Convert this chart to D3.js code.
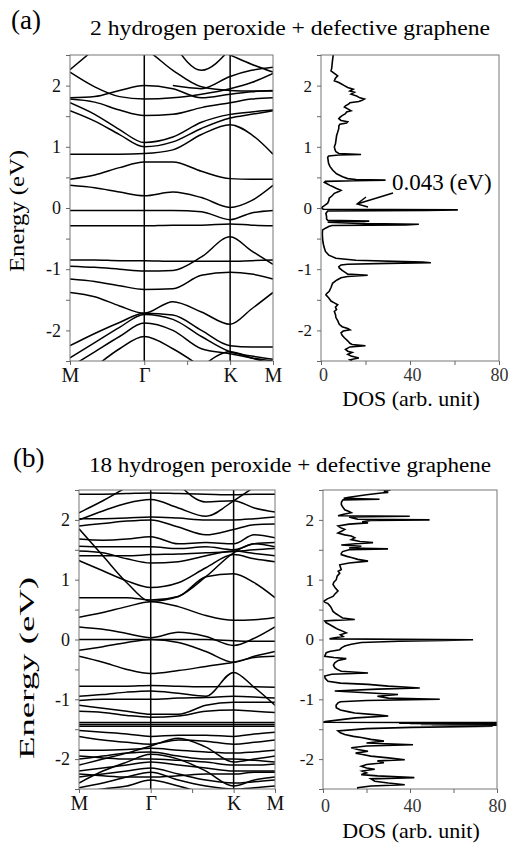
<!DOCTYPE html>
<html>
<head>
<meta charset="utf-8">
<script src="https://cdn.jsdelivr.net/npm/d3@7"></script>
<style>
  body { margin: 0; background: #fff; }
</style>
</head>
<body>
<div id="chart"></div>
<script>
// k-path sample points along M - Γ - K - M (hexagonal BZ lengths)
var kPts = [0, 0.192, 0.385, 0.577, 0.799, 1.021, 1.244, 1.41, 1.577];
var kTicks = [0, 0.577, 0.91, 1.244, 1.577];
var kNames = ["M", "Γ", "", "K", "M"];
var eTicks = [-2, -1, 0, 1, 2];
var dosTickLabels = [0, 40, 80];

// (a) 2 H2O2 bands, energies (eV) at kPts; null = outside window
var bandsA = [
  [0.88,0.88,0.88,0.89,0.95,1.2,1.36,1.2,0.88],
  [1.59,1.42,1.2,1.0,1.08,1.3,1.47,1.53,1.59],
  [1.72,1.53,1.28,1.07,1.16,1.4,1.53,1.57,1.6],
  [1.78,1.73,1.6,1.51,1.53,1.64,1.72,1.78,1.8],
  [1.8,1.82,1.92,2.0,1.95,1.8,1.86,1.9,1.92],
  [2.22,1.98,1.82,1.78,1.8,1.86,1.95,2.05,2.2],
  [2.26,2.6,null,null,null,null,null,null,null],
  [null,null,2.7,2.6,2.25,1.98,1.92,1.91,1.91],
  [null,null,null,null,2.7,2.25,2.6,null,null],
  [null,null,null,null,2.0,1.95,2.15,2.25,2.3],
  [null,null,null,null,null,2.7,2.5,2.35,2.22],
  [0.47,0.54,0.66,0.75,0.75,0.6,0.48,0.47,0.47],
  [0.37,0.33,0.26,0.2,0.26,0.17,0.01,0.12,0.37],
  [-0.04,-0.04,-0.04,-0.04,-0.04,-0.06,-0.19,-0.08,-0.04],
  [-0.29,-0.29,-0.29,-0.29,-0.28,-0.28,-0.26,-0.28,-0.29],
  [-0.85,-0.85,-0.86,-0.86,-0.87,-0.87,-0.87,-0.86,-0.85],
  [-0.95,-0.97,-1.0,-1.03,-1.02,-0.8,-0.47,-0.7,-0.92],
  [-1.16,-1.2,-1.27,-1.33,-1.32,-1.1,-1.05,-1.08,-1.16],
  [-1.38,-1.45,-1.6,-1.72,-1.53,-1.7,-1.9,-1.65,-1.38],
  [-2.25,-2.05,-1.87,-1.72,-1.75,-2.0,-2.25,-2.27,-2.27],
  [-2.45,-2.2,-1.95,-1.74,-1.82,-2.1,-2.35,-2.42,-2.47],
  [-2.6,-2.35,-2.1,-1.88,-2.0,-2.3,-2.38,-2.45,-2.5],
  [null,-2.6,-2.3,-2.1,-2.3,-2.6,null,null,null],
  [null,null,null,null,null,-2.6,-2.35,-2.45,-2.55]
];

// (b) 18 H2O2 bands
var bandsB = [
  [2.43,2.43,2.44,2.45,2.44,2.43,2.42,2.43,2.43],
  [2.12,2.32,2.55,null,null,null,null,null,null],
  [2.0,2.15,2.28,2.34,2.2,2.06,2.32,2.55,null],
  [null,null,null,null,2.6,2.3,2.32,2.2,2.13],
  [2.02,2.02,2.03,2.05,2.03,2.0,2.0,2.02,2.05],
  [1.9,1.94,1.98,2.0,1.88,1.75,1.84,1.92,1.93],
  [1.68,1.66,1.68,1.72,1.6,1.62,1.6,1.75,1.7],
  [1.56,1.55,1.55,1.55,1.52,1.55,1.5,1.6,1.62],
  [1.48,1.45,1.35,1.28,1.3,1.4,1.48,1.44,1.4],
  [1.85,1.4,0.95,0.64,0.72,1.05,1.45,1.6,1.55],
  [1.32,1.15,0.98,0.87,0.95,1.2,1.42,1.35,1.3],
  [0.7,0.7,0.7,0.66,0.72,1.05,1.1,0.95,0.7],
  [1.4,1.4,1.4,1.42,1.43,1.45,1.47,1.5,1.52],
  [0.37,0.45,0.55,0.63,0.55,0.4,0.32,0.33,0.37],
  [0.21,0.17,0.1,0.03,0.12,0.05,-0.1,0.02,0.21],
  [0.0,0.0,0.0,0.0,0.0,0.0,-0.02,-0.03,-0.03],
  [-0.18,-0.12,-0.05,0.0,-0.05,-0.2,-0.38,-0.28,-0.2],
  [-0.28,-0.38,-0.5,-0.57,-0.52,-0.45,-0.38,-0.3,-0.28],
  [-0.78,-0.78,-0.78,-0.77,-0.78,-0.79,-0.78,-0.79,-0.8],
  [-0.95,-0.92,-0.88,-0.86,-0.9,-0.95,-0.55,-0.8,-1.1],
  [-1.02,-1.0,-1.0,-1.0,-0.98,-0.97,-0.95,-0.96,-0.98],
  [-1.1,-1.15,-1.2,-1.25,-1.25,-1.1,-1.05,-1.05,-1.05],
  [-1.2,-1.22,-1.27,-1.3,-1.28,-1.2,-1.18,-1.2,-1.22],
  [-1.39,-1.39,-1.39,-1.39,-1.39,-1.39,-1.39,-1.39,-1.39],
  [-1.42,-1.42,-1.42,-1.42,-1.42,-1.42,-1.42,-1.42,-1.42],
  [-1.45,-1.45,-1.45,-1.45,-1.45,-1.45,-1.45,-1.45,-1.45],
  [-1.52,-1.55,-1.58,-1.62,-1.6,-1.6,-1.62,-1.58,-1.55],
  [-1.62,-1.68,-1.72,-1.75,-1.68,-1.7,-1.75,-1.72,-1.68],
  [-2.1,-2.0,-1.9,-1.78,-1.65,-1.8,-2.05,-2.0,-1.95],
  [-1.85,-1.85,-1.84,-1.82,-1.85,-1.88,-1.9,-1.88,-1.85],
  [-2.0,-1.95,-1.9,-1.88,-1.95,-2.0,-2.0,-2.02,-2.05],
  [-2.4,-2.2,-2.05,-1.92,-2.0,-2.2,-2.45,-2.35,-2.3],
  [-2.2,-2.15,-2.1,-2.05,-2.1,-2.15,-2.2,-2.2,-2.2],
  [-2.3,-2.25,-2.2,-2.15,-2.25,-2.35,-2.4,-2.38,-2.35],
  [-2.48,-2.4,-2.3,-2.22,-2.35,-2.45,-2.5,-2.48,-2.45],
  [-2.55,-2.5,-2.45,-2.35,-2.45,-2.55,-2.55,-2.55,-2.55],
  [-2.25,-2.28,-2.3,-2.3,-2.28,-2.25,-2.25,-2.22,-2.22],
  [-1.95,-1.98,-2.0,-2.0,-2.02,-2.05,-2.1,-2.1,-2.08]
];

// DOS curves as [energy, dos]
var dosA = [[2.5,5.5],[2.42,5.2],[2.35,5.0],[2.28,4.8],[2.24,4.5],[2.2,6.0],[2.16,7.5],[2.12,6.5],[2.08,6.0],[2.05,8.0],[2.03,9.0],[2.0,10.5],[1.97,12],[1.94,14.5],[1.91,13],[1.89,15],[1.86,13.5],[1.83,16],[1.80,17.5],[1.78,19.5],[1.76,18.5],[1.74,17],[1.72,13],[1.70,12.5],[1.67,11],[1.65,10.5],[1.62,12],[1.59,13.5],[1.57,11.5],[1.54,11],[1.51,9.5],[1.48,8.5],[1.46,8],[1.43,9],[1.41,12],[1.39,11.5],[1.37,8.5],[1.34,8],[1.30,8],[1.24,7.5],[1.18,7],[1.1,6.7],[1.05,6.5],[1.0,6],[0.95,6.3],[0.92,6.7],[0.89,8],[0.875,18],[0.865,8],[0.85,3.5],[0.83,3],[0.78,3.2],[0.73,3.4],[0.68,4],[0.62,5.2],[0.56,7],[0.51,9.7],[0.48,12],[0.465,15.7],[0.455,29],[0.445,15],[0.435,2],[0.42,1.5],[0.40,2.5],[0.37,4],[0.35,5.2],[0.32,7],[0.29,9],[0.27,8],[0.24,6],[0.2,5],[0.16,3.7],[0.12,3.5],[0.08,3],[0.04,1.5],[0.02,0.7],
  [0.0,0.3],[-0.02,1],[-0.03,61.5],[-0.04,47],[-0.05,3],[-0.09,2.2],[-0.14,2.5],[-0.18,2.5],[-0.2,3],[-0.215,21.7],[-0.23,3],[-0.255,20],[-0.265,44],[-0.275,38],[-0.285,5],[-0.3,3.7],[-0.33,2],[-0.36,0.7],[-0.42,0.6],[-0.49,0.7],[-0.56,0.9],[-0.63,1.3],[-0.71,2],[-0.77,3.5],[-0.82,6.7],[-0.855,15.7],[-0.885,45.7],[-0.895,49.4],[-0.905,30],[-0.92,12],[-0.93,9],[-0.96,8],[-0.98,8.2],[-1.02,9.5],[-1.06,11.2],[-1.08,12],[-1.1,21],[-1.12,12],[-1.14,9],[-1.18,7],[-1.23,5.2],[-1.3,4.5],[-1.36,3.7],[-1.4,2.5],[-1.42,2.2],[-1.47,3.5],[-1.52,4.5],[-1.55,6],[-1.58,7.5],[-1.62,6.5],[-1.66,7],[-1.69,6],[-1.74,6.5],[-1.79,6.7],[-1.84,7.5],[-1.9,8.2],[-1.94,9.5],[-1.97,12],[-1.99,13],[-2.01,10],[-2.04,9],[-2.08,9.5],[-2.12,10.5],[-2.17,12],[-2.21,13],[-2.23,14],[-2.25,20],[-2.27,13],[-2.31,11],[-2.34,12],[-2.36,14],[-2.39,12],[-2.42,13.5],[-2.45,17],[-2.48,13],[-2.5,14]];

var dosB = [[2.51,25],[2.5,31],[2.48,28],[2.46,30],[2.45,26.8],[2.42,20],[2.4,16],[2.38,12],[2.36,9.5],[2.345,26],[2.335,9.2],[2.3,8.5],[2.26,8.4],[2.22,9],[2.17,10],[2.14,12],[2.12,13],[2.09,9],[2.07,6.9],[2.06,39.9],[2.05,12],[2.03,14],[2.01,16],[2.0,49],[1.99,22],[1.97,18],[1.95,20.7],[1.93,12],[1.9,6.9],[1.87,8],[1.84,10],[1.81,8.5],[1.78,6.9],[1.75,10],[1.73,13],[1.7,14.6],[1.67,13],[1.64,17],[1.62,23],[1.6,15],[1.58,8.4],[1.56,17.6],[1.53,12],[1.515,29.9],[1.5,12],[1.47,9],[1.44,8.4],[1.42,8.4],[1.39,11],[1.37,13],[1.34,16],[1.31,20.7],[1.28,12],[1.25,7.7],[1.21,8],[1.17,8.4],[1.14,7],[1.11,7.7],[1.06,6.5],[1.0,6.1],[0.96,5],[0.92,4.6],[0.87,5.5],[0.81,6.9],[0.76,5.5],[0.72,4.6],[0.68,2],[0.64,0.3],[0.62,1],[0.6,2.3],[0.55,3.5],[0.5,4.2],[0.47,4.6],[0.43,6],[0.39,7.7],[0.36,9],[0.335,14.6],[0.32,5],[0.31,0.8],[0.28,1.5],[0.25,3],[0.21,5],[0.17,6.9],[0.14,9],[0.11,10.7],[0.08,8],[0.05,9.2],[0.03,5.4],[0.01,3],[-0.005,69],[-0.015,56],[-0.03,35],[-0.05,17.6],[-0.08,13],[-0.11,10],[-0.14,8.5],[-0.17,7.7],[-0.2,3],[-0.22,1.5],[-0.26,1],[-0.28,0.8],[-0.3,5],[-0.32,10.7],[-0.35,7],[-0.39,5.4],[-0.43,4.8],[-0.47,5.4],[-0.5,6.5],[-0.53,8.4],[-0.56,20.7],[-0.58,4],[-0.61,0.8],[-0.65,1],[-0.7,2.3],[-0.73,8],[-0.75,20.7],[-0.78,30],[-0.81,44.5],[-0.83,25],[-0.86,5.4],[-0.89,20],[-0.92,34.5],[-0.95,25],[-0.98,30],[-1.0,53.7],[-1.02,20],[-1.04,8],[-1.06,6.9],[-1.1,6],[-1.14,6.1],[-1.18,8],[-1.21,12],[-1.23,14.6],[-1.26,25],[-1.28,30],[-1.31,15],[-1.34,8.4],[-1.37,1],[-1.385,0],[-1.39,80],[-1.40,35],[-1.405,80],[-1.41,40],[-1.415,80],[-1.42,45],[-1.425,80],[-1.43,50],[-1.435,80],[-1.44,60],[-1.45,78],[-1.47,40.6],[-1.49,20],[-1.53,6.9],[-1.56,8],[-1.59,10],[-1.62,14],[-1.64,17.6],[-1.67,22],[-1.7,28],[-1.73,20],[-1.76,41.4],[-1.78,20],[-1.81,13],[-1.84,16],[-1.87,20.7],[-1.9,15],[-1.92,17.6],[-1.95,22],[-1.98,30],[-2.01,37.6],[-2.03,25],[-2.06,28],[-2.09,20],[-2.12,17.6],[-2.15,20],[-2.17,23.8],[-2.2,18],[-2.23,20],[-2.26,17.6],[-2.28,25],[-2.31,42],[-2.33,22],[-2.37,23.8],[-2.4,30],[-2.43,37.6],[-2.45,22],[-2.48,16],[-2.51,16]];

var FONT = "'Liberation Serif', 'Times New Roman', serif";

var W = 508, H = 844;
var svg = d3.select("#chart").append("svg")
    .attr("width", W)
    .attr("height", H);

var defs = svg.append("defs");
var clipN = 0;

function frameClip(b) {
  var id = "clip" + (clipN++);
  defs.append("clipPath").attr("id", id)
    .append("rect")
      .attr("x", b.x0).attr("y", b.y0)
      .attr("width", b.x1 - b.x0).attr("height", b.y1 - b.y0);
  return "url(#" + id + ")";
}

function energyAxis(g, y, b, fs) {
  g.append("g")
      .attr("transform", "translate(" + b.x0 + ",0)")
      .call(d3.axisLeft(y)
        .tickValues(d3.range(-2.5, 2.51, 0.5))
        .tickSize(4).tickPadding(5)
        .tickFormat(function(d) { return eTicks.indexOf(d) >= 0 ? String(d) : ""; }))
      .call(function(a) {
        a.select(".domain").remove();
        a.selectAll("line").attr("stroke", "#666");
        a.selectAll("text").attr("font-size", fs).attr("fill", "#111");
      });
}

function drawBands(bands, b) {
  var x = d3.scaleLinear().domain([0, 1.577]).range([b.x0, b.x1]);
  var y = d3.scaleLinear().domain([-2.5, 2.5]).range([b.y1, b.y0]);
  var g = svg.append("g");

  var line = d3.line()
      .defined(function(d) { return d != null; })
      .x(function(d, i) { return x(kPts[i]); })
      .y(function(d) { return y(d); })
      .curve(d3.curveMonotoneX);

  g.append("g")
      .attr("clip-path", frameClip(b))
    .selectAll("path")
    .data(bands)
    .enter()
    .append("path")
      .attr("d", line)
      .attr("fill", "none")
      .attr("stroke", "#000")
      .attr("stroke-width", 1.5);

  // vertical lines at Γ and K
  g.selectAll(".sym")
    .data([0.577, 1.244])
    .enter()
    .append("line")
      .attr("x1", function(d) { return x(d); })
      .attr("x2", function(d) { return x(d); })
      .attr("y1", b.y0).attr("y2", b.y1)
      .attr("stroke", "#000")
      .attr("stroke-width", 1.5);

  g.append("rect")
      .attr("x", b.x0).attr("y", b.y0)
      .attr("width", b.x1 - b.x0).attr("height", b.y1 - b.y0)
      .attr("fill", "none").attr("stroke", "#777").attr("stroke-width", 1);

  energyAxis(g, y, b, 18);

  g.append("g")
      .attr("transform", "translate(0," + b.y1 + ")")
      .call(d3.axisBottom(x)
        .tickValues(kTicks).tickSize(4).tickPadding(3)
        .tickFormat(function(d, i) { return kNames[i]; }))
      .call(function(a) {
        a.select(".domain").remove();
        a.selectAll("line").attr("stroke", "#666");
        a.selectAll("text").attr("font-size", 20).attr("fill", "#111");
      });
}

function drawDos(dos, b, tickPad, labelOff) {
  var x = d3.scaleLinear().domain([0, 80]).range([b.x0, b.x1]);
  var y = d3.scaleLinear().domain([-2.5, 2.5]).range([b.y1, b.y0]);
  var g = svg.append("g");

  var line = d3.line()
      .x(function(d) { return x(d[1]); })
      .y(function(d) { return y(d[0]); });

  g.append("path")
      .datum(dos)
      .attr("clip-path", frameClip(b))
      .attr("d", line)
      .attr("fill", "none")
      .attr("stroke", "#000")
      .attr("stroke-width", 1.6)
      .attr("stroke-linejoin", "miter");

  g.append("rect")
      .attr("x", b.x0).attr("y", b.y0)
      .attr("width", b.x1 - b.x0).attr("height", b.y1 - b.y0)
      .attr("fill", "none").attr("stroke", "#777").attr("stroke-width", 1);

  energyAxis(g, y, b, 17);

  g.append("g")
      .attr("transform", "translate(0," + b.y1 + ")")
      .call(d3.axisBottom(x)
        .tickValues([0, 20, 40, 60, 80]).tickSize(4).tickPadding(tickPad)
        .tickFormat(function(d) { return dosTickLabels.indexOf(d) >= 0 ? String(d) : ""; }))
      .call(function(a) {
        a.select(".domain").remove();
        a.selectAll("line").attr("stroke", "#666");
        a.selectAll("text").attr("font-size", 18).attr("fill", "#333")
          .attr("dx", function(d) { return d === 80 ? 0 : 2; });
      });

  g.append("text")
      .attr("x", (b.x0 + b.x1) / 2 + 1)
      .attr("y", b.y1 + labelOff)
      .attr("text-anchor", "middle")
      .attr("font-size", 22)
      .text("DOS (arb. unit)");
}

// panel (a)
var boxA = {x0: 70, x1: 273, y0: 55, y1: 361};
var dosBoxA = {x0: 321, x1: 499, y0: 55, y1: 361};
drawBands(bandsA, boxA);
drawDos(dosA, dosBoxA, 3, 45);

// panel (b)
var boxB = {x0: 79, x1: 275, y0: 490, y1: 789};
var dosBoxB = {x0: 323, x1: 497, y0: 490, y1: 789};
drawBands(bandsB, boxB);
drawDos(dosB, dosBoxB, 6, 49);

// titles
svg.append("text").attr("x", 11).attr("y", 29).attr("font-size", 27).text("(a)");
svg.append("text").attr("x", 90).attr("y", 35).attr("font-size", 20)
    .attr("textLength", 400).attr("lengthAdjust", "spacingAndGlyphs")
    .text("2 hydrogen peroxide + defective graphene");
svg.append("text").attr("x", 13).attr("y", 467).attr("font-size", 27).text("(b)");
svg.append("text").attr("x", 89).attr("y", 472).attr("font-size", 20)
    .attr("textLength", 402).attr("lengthAdjust", "spacingAndGlyphs")
    .text("18 hydrogen peroxide + defective graphene");

// y labels
svg.append("text")
    .attr("transform", "translate(24,211) rotate(-90)")
    .attr("text-anchor", "middle").attr("font-size", 21)
    .attr("textLength", 122).attr("lengthAdjust", "spacingAndGlyphs")
    .text("Energy (eV)");
svg.append("text")
    .attr("transform", "translate(34,668) rotate(-90)")
    .attr("text-anchor", "middle").attr("font-size", 22)
    .attr("textLength", 182).attr("lengthAdjust", "spacingAndGlyphs")
    .text("Energy (eV)");

// annotation in (a) DOS
svg.append("text").attr("x", 392).attr("y", 190).attr("font-size", 23).text("0.043 (eV)");
var ax0 = 393, ay0 = 193, ax1 = 357, ay1 = 204;
svg.append("path")
    .attr("d", "M" + ax0 + "," + ay0 + "L" + ax1 + "," + ay1 +
               "M" + (ax1 + 9) + "," + (ay1 - 7) + "L" + ax1 + "," + ay1 + "L" + (ax1 + 11) + "," + (ay1 + 3))
    .attr("fill", "none").attr("stroke", "#000").attr("stroke-width", 1.4);

svg.selectAll("text").style("font-family", FONT);
</script>
</body>
</html>
